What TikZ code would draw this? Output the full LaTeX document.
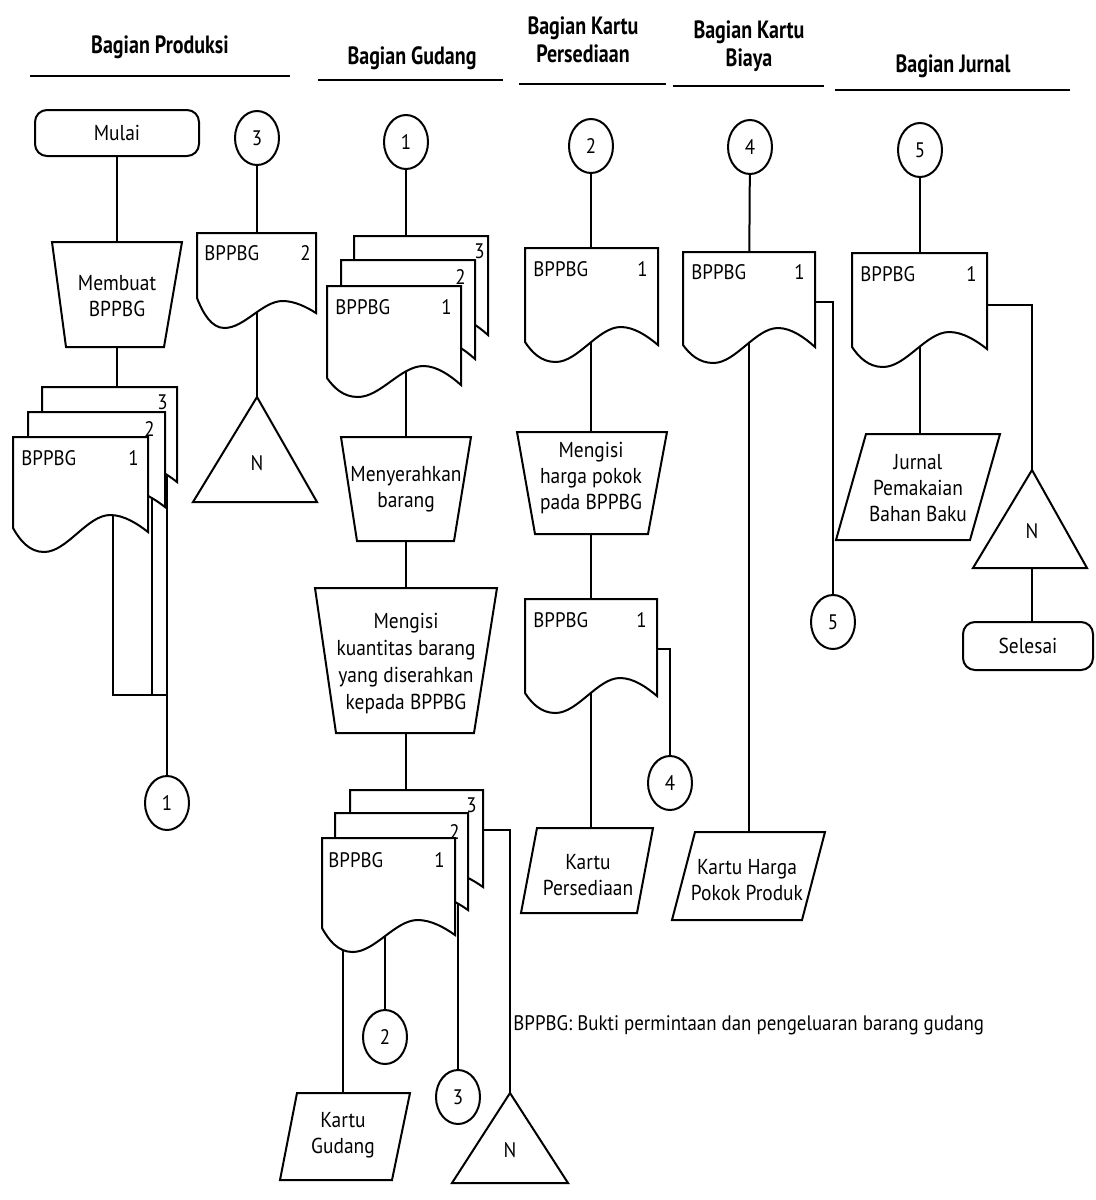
\documentclass[tikz,border=0pt]{standalone}
\usepackage{fontspec}
\setmainfont{PT Sans}
\newfontfamily\bodyfont{PT Sans}[FakeStretch=0.9]
\newfontfamily\headfont{PT Sans}[FakeStretch=0.8]
\usetikzlibrary{shapes.geometric}
\pgfdeclarelayer{bg}
\pgfsetlayers{bg,main}
\tikzset{
  ln/.style={line width=1pt},
  shp/.style={draw, line width=1pt, fill=white, line join=miter},
  txt/.style={font=\bodyfont\fontsize{10.8}{13}\selectfont, align=center, inner sep=0pt},
  lbl/.style={font=\bodyfont\fontsize{10.5}{12}\selectfont, inner sep=0pt},
  conn/.style={draw, line width=1pt, fill=white, ellipse, minimum width=22pt, minimum height=27pt, inner sep=0pt, font=\bodyfont\fontsize{10.5}{12}\selectfont},
  term/.style={draw, line width=1pt, fill=white, rounded corners=6pt, inner sep=0pt, font=\bodyfont\fontsize{10.8}{12}\selectfont},
  head/.style={font=\headfont\bfseries\fontsize{12.5}{14}\selectfont, align=center, inner sep=0pt},
}
\newcommand{\docshape}[7]{%
 \path[shp] (#1,#2) -- ({#1+#3},#2) -- ({#1+#3},{#2+#7})
  .. controls ({#1+0.92*#3},{#2+0.5*(#6+#7)}) and ({#1+0.82*#3},{#2+#6}) .. ({#1+0.72*#3},{#2+#6})
  .. controls ({#1+0.55*#3},{#2+#6}) and ({#1+0.40*#3},{#2+#5}) .. ({#1+0.23*#3},{#2+#5})
  .. controls ({#1+0.12*#3},{#2+#5}) and ({#1+0.05*#3},{#2+0.5*(#4+#5)}) .. (#1,{#2+#4}) -- cycle;}
\begin{document}
\begin{tikzpicture}[x=0.5pt, y=-0.5pt]
\useasboundingbox (0,0) rectangle (1096,1200);

% ---------- headers ----------
\node[head] (hP) at (160,47) {Bagian Produksi};
\node[head] (hG) at (412,58) {Bagian Gudang};
\node[head] (hK) at (583,40) {Bagian Kartu\\Persediaan};
\node[head] (hB) at (749,46) {Bagian Kartu\\Biaya};
\node[head] (hJ) at (953,66) {Bagian Jurnal};
\draw[ln] (30,76) -- (290,76);
\draw[ln] (318,80) -- (503,80);
\draw[ln] (519,84) -- (666,84);
\draw[ln] (673,86) -- (824,86);
\draw[ln] (835,90) -- (1070,90);

% ---------- Bagian Produksi ----------
\node[term, minimum width=82pt, minimum height=23pt] (mulai) at (117,133) {Mulai};
\path[shp] (52,242) -- (182,242) -- (164,347) -- (66,347) -- cycle;
\node[txt] (membuat) at (117,296) {Membuat\\BPPBG};
\docshape{42}{387}{135}{91}{115}{78}{95}
\docshape{28}{412}{137}{91}{115}{78}{95}
\docshape{13}{437}{135}{91}{115}{78}{95}
\node[lbl, anchor=east] (p3n) at (168,402) {3};
\node[lbl, anchor=east] (p2n) at (155,429) {2};
\node[lbl, anchor=west] (p1l) at (21,458) {BPPBG};
\node[lbl, anchor=east] (p1n) at (139,458) {1};
\coordinate (pt) at (117,400);
\coordinate (pp1) at (113,480);
\coordinate (pp2) at (152,470);
\coordinate (pp3) at (167,440);
\coordinate (pj1) at (113,695);
\coordinate (pj3) at (167,695);
\node[conn] (c1a) at (167,803) {1};

\node[conn] (c3a) at (257,138) {3};
\docshape{197}{233}{119}{65}{95}{68}{80}
\node[lbl, anchor=west] (d2l) at (204,253) {BPPBG};
\node[lbl, anchor=east] (d2n) at (311,253) {2};
\coordinate (d2c) at (257,280);
\path[shp] (257,397) -- (317,502) -- (193,502) -- cycle;
\node[lbl] (n1) at (257,463) {N};

% ---------- Bagian Gudang ----------
\node[conn] (c1b) at (406,142) {1};
\docshape{354}{236}{134}{92}{111}{80}{99}
\docshape{341}{260}{134}{92}{111}{80}{99}
\docshape{327}{286}{134}{92}{111}{80}{99}
\node[lbl, anchor=east] (g3n) at (485,251) {3};
\node[lbl, anchor=east] (g2n) at (466,277) {2};
\node[lbl, anchor=west] (g1l) at (335,307) {BPPBG};
\node[lbl, anchor=east] (g1n) at (452,307) {1};
\coordinate (gt) at (406,250);
\coordinate (gp1) at (406,330);
\path[shp] (341,437) -- (471,437) -- (454,541) -- (357,541) -- cycle;
\node[txt] (menyer) at (406,489) {Menyerahkan\\barang};
\path[shp] (315,588) -- (497,588) -- (474,733) -- (336,733) -- cycle;
\node[txt, font=\bodyfont\fontsize{10.8}{13.5}\selectfont] (mengisi) at (406,664) {Mengisi\\kuantitas barang\\yang diserahkan\\kepada BPPBG};
\coordinate (gb) at (406,800);
\docshape{350}{790}{133}{90}{114}{82}{97}
\docshape{335}{813}{133}{90}{114}{82}{97}
\docshape{322}{838}{133}{90}{114}{82}{97}
\node[lbl, anchor=east] (b3n) at (477,805) {3};
\node[lbl, anchor=east] (b2n) at (460,832) {2};
\node[lbl, anchor=west] (b1l) at (328,860) {BPPBG};
\node[lbl, anchor=east] (b1n) at (445,860) {1};
\coordinate (gbp1a) at (343,900);
\coordinate (gbp1b) at (385,900);
\coordinate (gbp2) at (458,880);
\coordinate (gbp3) at (470,830);
\coordinate (gbs) at (510,830);
\path[shp] (297,1093) -- (410,1093) -- (392,1180) -- (280,1180) -- cycle;
\node[txt] (kg) at (343,1135) {Kartu\\Gudang};
\node[conn] (c2b) at (385,1037) {2};
\node[conn] (c3b) at (458,1097) {3};
\path[shp] (510,1093) -- (568,1183) -- (452,1183) -- cycle;
\node[lbl] (n2) at (510,1150) {N};

% ---------- Bagian Kartu Persediaan ----------
\node[conn] (c2c) at (591,146) {2};
\docshape{525}{248}{133}{94}{114}{79}{97}
\node[lbl, anchor=west] (k1l) at (533,269) {BPPBG};
\node[lbl, anchor=east] (k1n) at (648,269) {1};
\coordinate (pd1) at (591,300);
\path[shp] (517,432) -- (667,432) -- (648,534) -- (535,534) -- cycle;
\node[txt] (mhp) at (591,478) {Mengisi\\harga pokok\\pada BPPBG};
\docshape{525}{599}{132}{94}{114}{79}{97}
\node[lbl, anchor=west] (k2l) at (533,620) {BPPBG};
\node[lbl, anchor=east] (k2n) at (647,620) {1};
\coordinate (pd2) at (591,650);
\coordinate (pd2s) at (640,649);
\coordinate (ps) at (670,649);
\node[conn] (c4a) at (670,783) {4};
\path[shp] (537,828) -- (653,828) -- (637,913) -- (521,913) -- cycle;
\node[txt] (kp) at (588,875) {Kartu\\Persediaan};

% ---------- Bagian Kartu Biaya ----------
\node[conn] (c4b) at (750,147) {4};
\docshape{683}{252}{132}{93}{111}{76}{95}
\node[lbl, anchor=west] (bl) at (691,272) {BPPBG};
\node[lbl, anchor=east] (bn) at (805,272) {1};
\coordinate (bd) at (749,300);
\coordinate (bds) at (800,302);
\coordinate (bsc) at (833,302);
\node[conn] (c5a) at (833,622) {5};
\path[shp] (695,832) -- (825,832) -- (802,920) -- (672,920) -- cycle;
\node[txt] (kh) at (747,880) {Kartu Harga\\Pokok Produk};

% ---------- Bagian Jurnal ----------
\node[conn] (c5b) at (920,150) {5};
\docshape{852}{253}{135}{94}{114}{79}{96}
\node[lbl, anchor=west] (jl) at (860,274) {BPPBG};
\node[lbl, anchor=east] (jn) at (977,274) {1};
\coordinate (jd) at (920,300);
\coordinate (jds) at (970,305);
\coordinate (jsc) at (1032,305);
\path[shp] (866,434) -- (1000,434) -- (970,540) -- (836,540) -- cycle;
\node[txt] (jp) at (918,488) {Jurnal\\Pemakaian\\Bahan Baku};
\path[shp] (1032,470) -- (1087,568) -- (973,568) -- cycle;
\node[lbl] (n3) at (1032,531) {N};
\node[term, minimum width=65pt, minimum height=24pt] (sel) at (1028,646) {Selesai};

% ---------- legend ----------
\node[lbl, anchor=west] (leg) at (513,1025) {BPPBG: Bukti permintaan dan pengeluaran barang gudang};

% ---------- connectors (behind shapes) ----------
\begin{pgfonlayer}{bg}
\fill[white] (0,0) rectangle (1096,1200);
\draw[ln] (mulai) -- (membuat);
\draw[ln] (membuat) -- (pt);
\draw[ln] (pp1) -- (pj1) -- (pj3);
\draw[ln] (pp2) -- (pp2 |- pj1);
\draw[ln] (pp3) -- (c1a);
\draw[ln] (c3a) -- (d2c);
\draw[ln] (d2c) -- (n1);
\draw[ln] (c1b) -- (gt);
\draw[ln] (gp1) -- (menyer);
\draw[ln] (menyer) -- (mengisi);
\draw[ln] (mengisi) -- (gb);
\draw[ln] (gbp1a) -- (gbp1a |- kg);
\draw[ln] (gbp1b) -- (c2b);
\draw[ln] (gbp2) -- (c3b);
\draw[ln] (gbp3) -- (gbs) -- (gbs |- n2);
\draw[ln] (c2c) -- (pd1);
\draw[ln] (pd1) -- (mhp);
\draw[ln] (mhp) -- (pd2);
\draw[ln] (pd2) -- (pd2 |- kp);
\draw[ln] (pd2s) -- (ps) -- (c4a);
\draw[ln] (c4b) -- (bd);
\draw[ln] (bd) -- (bd |- kh);
\draw[ln] (bds) -- (bsc) -- (c5a);
\draw[ln] (c5b) -- (jd);
\draw[ln] (jd) -- (jd |- jp);
\draw[ln] (jds) -- (jsc) -- (jsc |- n3);
\draw[ln] (n3) -- (n3 |- sel);
\end{pgfonlayer}
\end{tikzpicture}
\end{document}
